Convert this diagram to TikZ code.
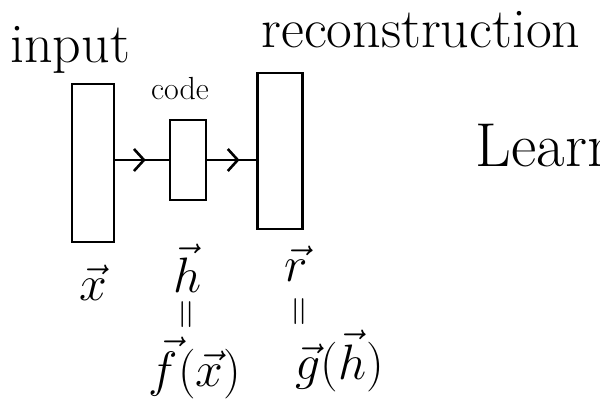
\documentclass[tikz,border=0pt]{standalone}
\usepackage{amsmath}
\usepackage{tikz}
\usetikzlibrary{arrows.meta}
\usetikzlibrary{decorations.markings}

\begin{document}
\begin{tikzpicture}[x=0.5pt,y=-0.5pt,line width=1.3pt,
  layer/.style={draw,line width=1.4pt,inner sep=0pt},
  word/.style={font=\fontsize{28}{32}\selectfont},
  vlabel/.style={font=\fontsize{25}{30}\selectfont,inner sep=1pt},
  equal/.style={font=\fontsize{20}{22}\selectfont,rotate=90,inner sep=0pt},
  midarrow/.style={postaction={decorate},decoration={markings,
    mark=at position #1 with {\arrow{Straight Barb[length=5pt,width=11pt,line width=1.3pt]}}}}]
\clip (0,0) rectangle (600,406);
\node[layer,minimum width=21pt,minimum height=79pt] (in) at (93,163) {};
\node[layer,minimum width=18pt,minimum height=40pt] (code) at (188,160) {};
\node[layer,minimum width=22.5pt,minimum height=78pt] (rec) at (280,151) {};
\node[word] (lin) at (70,50) {input};
\node[font=\fontsize{16}{18}\selectfont] (lcode) at (180,89) {code};
\node[word] (lrec) at (421,30) {reconstruction};
\node[font=\fontsize{31}{36}\selectfont,anchor=west] (learn) at (468,146) {Learn};
\draw[midarrow=0.57] (in.east |- code.west) -- (code.west);
\draw[midarrow=0.66] (code.east) -- (code.east -| rec.west);
\node[vlabel] (vx) at (93,283) {$\vec{x}$};
\node[vlabel] (vh) at (188,268) {$\vec{h}$};
\node[vlabel] (vr) at (296,264) {$\vec{r}$};
\node[equal] (eqh) at (189,315) {$=$};
\node[equal] (eqr) at (302,312) {$=$};
\node[vlabel] (vf) at (195,368) {$\vec{f}(\vec{x})$};
\node[vlabel] (vg) at (340,361) {$\vec{g}(\vec{h})$};
\end{tikzpicture}
\end{document}
